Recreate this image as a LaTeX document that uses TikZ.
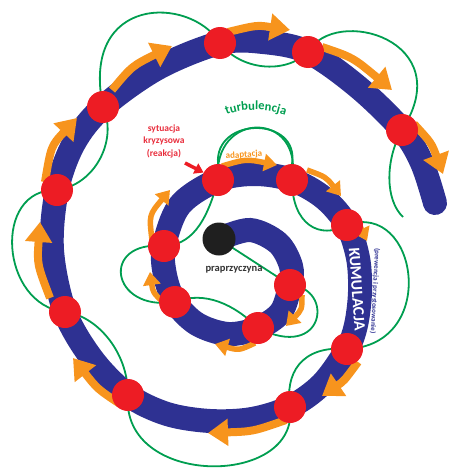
\documentclass[tikz,border=0pt]{standalone}
\usepackage{fontspec}
\setmainfont{Carlito}
\usetikzlibrary{arrows.meta,decorations.text,calc}
\definecolor{sblue}{RGB}{46,49,146}
\definecolor{sred}{RGB}{237,28,36}
\definecolor{sorange}{RGB}{247,148,29}
\definecolor{sgreen}{RGB}{0,158,80}
\definecolor{tred}{RGB}{232,45,60}
\begin{document}
\begin{tikzpicture}[x=1pt,y=-1pt,
  spiral/.style={draw=sblue, line width=24pt, line cap=round},
  turb/.style={draw=sgreen, line width=1.8pt},
  obig/.style={draw=sorange, line width=8pt, -{Triangle[width=26pt,length=20pt]}},
  osmall/.style={draw=sorange, line width=5.5pt, -{Triangle[width=17pt,length=13pt]}},
  dot/.style={circle, fill=sred, minimum size=32pt, inner sep=0pt},
  lbl/.style={inner sep=0pt}]
\useasboundingbox (0,0) rectangle (448,471);
% red dots (positions)
\coordinate (c1) at (290,285);
\coordinate (c2) at (258,328);
\coordinate (c3) at (175,302);
\coordinate (c4) at (164,246);
\coordinate (c5) at (218,180);
\coordinate (c6) at (292,180);
\coordinate (c7) at (347,225);
\coordinate (c8) at (347,349);
\coordinate (c9) at (290,407);
\coordinate (c10) at (128,395);
\coordinate (c11) at (65,312);
\coordinate (c12) at (57,190);
\coordinate (c13) at (103,107);
\coordinate (c14) at (220,43);
\coordinate (c15) at (308,52);
\coordinate (c16) at (402,130);
\coordinate (cause0) at (219,239);
\coordinate (gend) at (403,217);
% green turbulence loops
\draw[turb] (cause0) -- (c1);
\draw[turb] (c1) .. controls (335,288) and (325,362) .. (c2);
\draw[turb] (c2) .. controls (235,305) and (205,290) .. (c3);
\draw[turb] (c3) .. controls (110,312) and (100,240) .. (c4);
\draw[turb] (c4) .. controls (190,245) and (206,225) .. (c5);
\draw[turb] (c5) .. controls (212,110) and (304,110) .. (c6);
\draw[turb] (c6) .. controls (292,225) and (320,240) .. (c7);
\draw[turb] (c7) .. controls (418,200) and (440,345) .. (c8);
\draw[turb] (c8) .. controls (300,345) and (285,375) .. (c9);
\draw[turb] (c9) .. controls (300,488) and (120,488) .. (c10);
\draw[turb] (c10) .. controls (128,350) and (95,315) .. (c11);
\draw[turb] (c11) .. controls (0,305) and (-8,188) .. (c12);
\draw[turb] (c12) .. controls (95,185) and (118,140) .. (c13);
\draw[turb] (c13) .. controls (80,-5) and (190,-5) .. (c14);
\draw[turb] (c14) .. controls (240,70) and (285,75) .. (c15);
\draw[turb] (c15) .. controls (335,5) and (460,40) .. (c16);
\draw[turb] (c16) .. controls (385,160) and (385,200) .. (gend);
% blue spiral
\draw[spiral] plot[smooth, tension=0.55] coordinates {
 (219,239) (250,230) (278,243) (291,266) (290,285) (281,312) (258,328)
 (228,334) (197,324) (175,302) (165,275) (164,246) (180,205) (218,180)
 (255,174) (292,180) (324,198) (347,225) (358,258) (360,292) (356,325)
 (347,349) (322,384) (290,407) (252,419) (210,421) (167,414) (128,395)
 (93,360) (65,312) (52,250) (57,190) (74,143) (103,107) (158,68)
 (220,43) (263,42) (308,52) (358,87) (402,130) (422,163) (435,203)};
% orange arrows
\draw[osmall] (302,295) .. controls (302,309.5) .. (286,326);
\draw[osmall] (255,343) .. controls (239,350.5) .. (215,344);
\draw[osmall] (164,303) .. controls (153,292.5) .. (150,272);
\draw[osmall] (152,240) .. controls (149,215) .. (170,190);
\draw[osmall] (222,166) .. controls (246,159) .. (277,165);
\draw[osmall] (307,170) .. controls (326,177) .. (341,196);
\draw[osmall] (357,220) -- (367,241);
\draw[obig] (358,362) .. controls (344,381) .. (322,396);
\draw[obig] (286,420) .. controls (253,431.5) .. (208,433);
\draw[obig] (120,404) .. controls (97.5,389) .. (73,358);
\draw[obig] (50,298) .. controls (37,264) .. (40,222);
\draw[obig] (45,182) .. controls (51,146) .. (77,118);
\draw[obig] (112,90) .. controls (132,66) .. (172,46);
\draw[obig] (228,32) .. controls (257,25) .. (290,30);
\draw[obig] (322,47) .. controls (353,57.5) .. (392,90);
\draw[obig] (414,124) .. controls (431.5,143) .. (443,174);
% red dots
\foreach \i in {1,...,16} {\node[dot] (d\i) at (c\i) {};}
% black dot
\node[circle, fill=black!88, minimum size=33pt, inner sep=0pt] (cause) at (cause0) {};
% labels
\node[lbl, text=tred, font=\bfseries\fontsize{9.5}{12.5}\selectfont, align=center] (crisis) at (164,141) {sytuacja\\kryzysowa\\(reakcja)};
\coordinate (astart) at (185,163);
\draw[draw=sred, line width=3.5pt, -{Triangle[width=11pt,length=9pt]}] (astart) -- (d5);
\node[lbl, text=sorange, font=\bfseries\fontsize{9}{9}\selectfont, rotate=4] (adapt) at (244,155) {adaptacja};
\node[lbl, text=black!80, font=\bfseries\fontsize{10.5}{10.5}\selectfont] (root) at (234,270) {praprzyczyna};
\node[lbl, text=white, font=\bfseries\fontsize{16}{16}\selectfont, rotate=-86] (kum) at (357,289) {KUMULACJA};
\node[lbl, text=sblue, font=\bfseries\fontsize{7}{7}\selectfont, rotate=-93] (prew) at (375,291) {(prewencja i przystosowanie)};
% curved label
\path[decorate, decoration={text along path, text align=center, text color=sgreen,
  text={|\bfseries\fontsize{12.5}{12.5}\selectfont|turbulencja}}]
  (219,119) .. controls (236,107) and (274,107) .. (293,119);
% turbulence arc above the inner ring (drawn last, from dot edge to dot edge)
\coordinate (t5) at ($(c5)+(0,-16)$);
\coordinate (t6) at ($(c6)+(0,-16)$);
\draw[turb] (t5) .. controls (214,116) and (300,116) .. (t6);
\end{tikzpicture}
\end{document}
